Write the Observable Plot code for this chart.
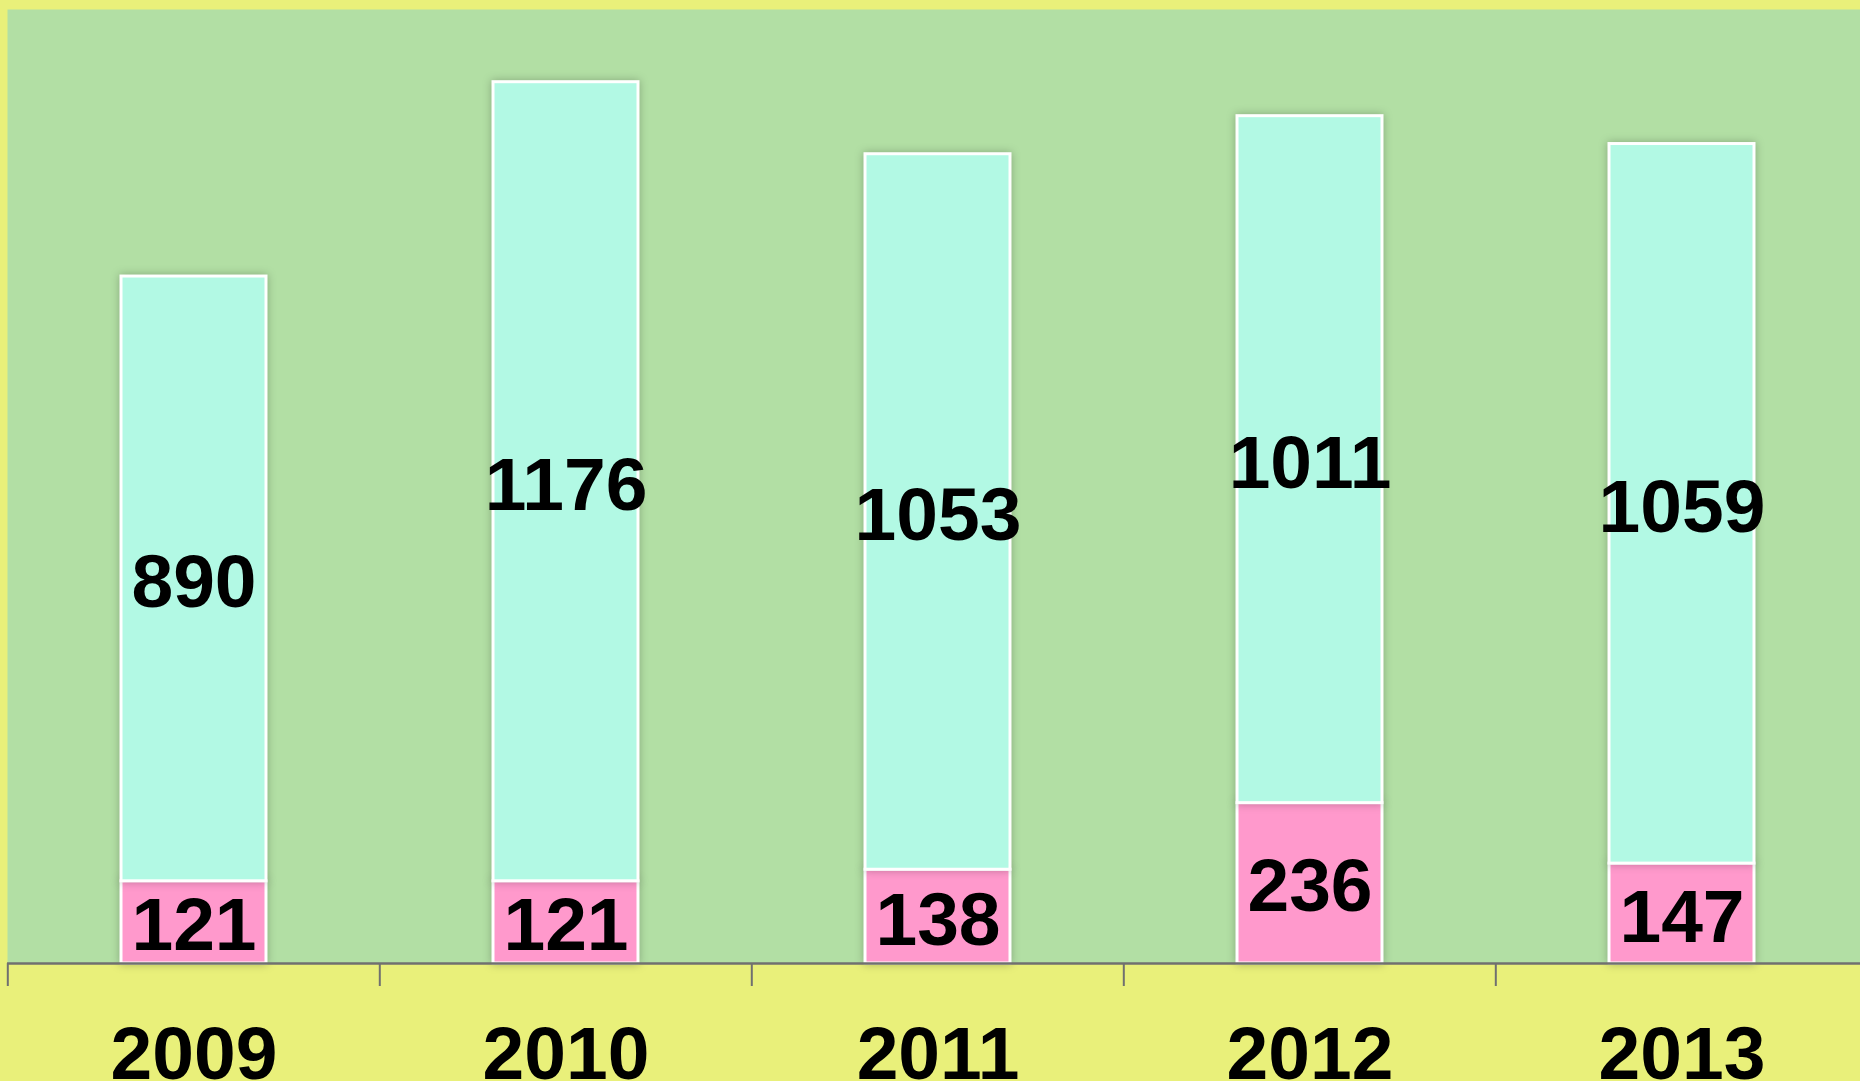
<!DOCTYPE html>
<html><head><meta charset="utf-8">
<script src="https://cdn.jsdelivr.net/npm/d3@7"></script>
<script src="https://cdn.jsdelivr.net/npm/@observablehq/plot@0.6"></script>
<style>html,body{margin:0;padding:0;overflow:hidden;background:#e9f07a}</style>
</head><body><div id="chart"></div>
<script>
const years = ["2009", "2010", "2011", "2012", "2013"];
const lowerValues = [121, 121, 138, 236, 147];
const upperValues = [890, 1176, 1053, 1011, 1059];
const parts = ["lower", "upper"];
const partColors = ["#ff99cc", "#b2f9e4"];

const rows = [];
years.forEach((yr, i) => {
  rows.push({year: yr, part: "lower", value: lowerValues[i], y1: 0, y2: lowerValues[i]});
  rows.push({year: yr, part: "upper", value: upperValues[i], y1: lowerValues[i], y2: lowerValues[i] + upperValues[i]});
});

const W = 1860, H = 1081, mL = 7, mT = 9, mB = 118, mR = -9;
const step = (W - mR - mL) / years.length;

const chart = Plot.plot({
  width: W, height: H,
  marginLeft: mL, marginRight: mR, marginTop: mT, marginBottom: mB,
  style: {background: "#e9f07a", fontFamily: "'Liberation Sans', Arial, sans-serif", fontWeight: "bold", color: "black", overflow: "hidden"},
  x: {domain: years, paddingInner: 0.61, paddingOuter: 0.305, axis: null, label: null},
  y: {domain: [0, 1404], axis: null},
  color: {domain: parts, range: partColors},
  marks: [
    Plot.frame({fill: "#b2dfa4", stroke: null}),
    Plot.barY(rows, {x: "year", y1: "y1", y2: "y2", fill: "part", stroke: "white", strokeWidth: 3}),
    Plot.text(rows, {x: "year", y: d => (d.y1 + d.y2) / 2, dy: 4, text: d => String(d.value), fontSize: 75, fontWeight: "bold", fill: "black"}),
    Plot.ruleY([0], {stroke: "#707070", strokeWidth: 2.5}),
    Plot.ruleX(years, {x: d => d, dx: -step / 2, insetTop: H - mT - mB, insetBottom: -23, stroke: "#707070", strokeWidth: 2}),
    Plot.axisX({tickSize: 0, tickPadding: 62, fontSize: 75, fontWeight: "bold", fill: "black", label: null})
  ]
});
d3.select(chart).selectAll("g[aria-label='bar'] rect").style("filter", "drop-shadow(0px 0px 4px rgba(0,0,0,0.25))");
document.getElementById("chart").appendChild(chart);
</script>
</body></html>
